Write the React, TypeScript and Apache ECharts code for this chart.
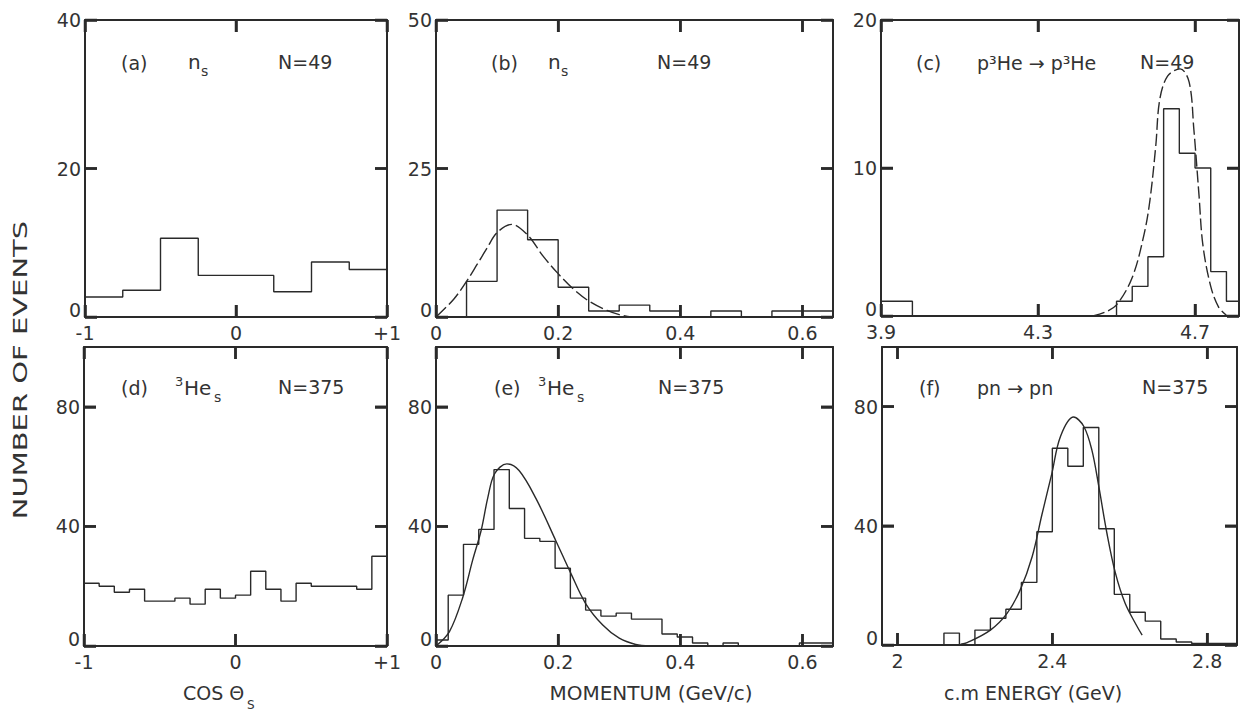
import React, { useEffect, useRef } from "react";
import * as echarts from "echarts";

// ---------- data ----------
// (a) cos theta_s, n_s
const aEdges = [-1, -0.75, -0.5, -0.25, 0, 0.25, 0.5, 0.75, 1];
const aCounts = [2.7, 3.6, 10.6, 5.6, 5.6, 3.4, 7.4, 6.4];
// (b) momentum, n_s
const bEdges = [0, 0.05, 0.1, 0.15, 0.2, 0.25, 0.3, 0.35, 0.4, 0.45, 0.5, 0.55, 0.6, 0.65];
const bCounts = [0, 6, 18, 13, 5, 1, 2, 1, 0, 1, 0, 1, 1];
const bCurveX = [0, 0.029, 0.05, 0.067, 0.083, 0.1, 0.124, 0.15, 0.175, 0.2, 0.225, 0.25, 0.28, 0.3, 0.32];
const bCurveY = [0, 3, 6, 8.8, 11.5, 14.2, 15.6, 13.8, 10.3, 7.3, 4.7, 2.7, 1.1, 0.4, 0];
// (c) c.m. energy, p3He -> p3He
const cEdges = [3.9, 3.98, 4.5, 4.54, 4.58, 4.62, 4.66, 4.7, 4.74, 4.78, 4.812];
const cCounts = [1, 0, 1, 2, 4, 14, 11, 10, 3, 1];
const cCurveX = [4.44, 4.47, 4.5, 4.54, 4.57, 4.585, 4.6, 4.61, 4.63, 4.662, 4.685, 4.697, 4.71, 4.72, 4.74, 4.76, 4.78];
const cCurveY = [0, 0.25, 0.75, 2.6, 5.5, 7.8, 11.5, 14.6, 16.2, 16.7, 15.8, 12.6, 8.2, 4.8, 2.0, 0.6, 0.05];
// (d) cos theta_s, 3He_s
const dEdges = [-1, -0.9, -0.8, -0.7, -0.6, -0.5, -0.4, -0.3, -0.2, -0.1, 0, 0.1, 0.2, 0.3, 0.4, 0.5, 0.6, 0.7, 0.8, 0.9, 1];
const dCounts = [21, 20, 18, 19, 15, 15, 16, 14, 19, 16, 17, 25, 19, 15, 21, 20, 20, 20, 19, 30];
// (e) momentum, 3He_s
const eEdges = [0, 0.02, 0.045, 0.07, 0.095, 0.12, 0.145, 0.17, 0.195, 0.22, 0.245, 0.27, 0.295, 0.32, 0.345, 0.37, 0.395, 0.42, 0.445, 0.47, 0.495, 0.595, 0.65];
const eCounts = [2, 17, 34, 39, 59, 46, 36, 35, 26, 16, 12, 10, 11, 9, 9, 4, 3, 1, 0, 1, 0, 1];
const eCurveX = [0, 0.022, 0.044, 0.06, 0.074, 0.085, 0.096, 0.116, 0.136, 0.164, 0.196, 0.221, 0.245, 0.273, 0.3, 0.327, 0.35];
const eCurveY = [0, 4.8, 16.4, 28.7, 38.7, 49.8, 57.6, 60.9, 58.7, 49.2, 35.3, 24.2, 14.2, 7, 2.6, 0.5, 0];
// (f) c.m. energy, pn -> pn
const fEdges = [1.96, 2.12, 2.16, 2.2, 2.24, 2.28, 2.32, 2.36, 2.4, 2.44, 2.48, 2.52, 2.56, 2.6, 2.64, 2.68, 2.72, 2.76, 2.877];
const fCounts = [0, 4, 0, 5, 9, 12, 21, 38, 66, 60, 73, 39, 17, 11, 8, 2, 1, 0.5];
const fCurveX = [2.163, 2.18, 2.24, 2.283, 2.317, 2.348, 2.373, 2.399, 2.421, 2.455, 2.481, 2.502, 2.52, 2.541, 2.563, 2.588, 2.619, 2.632];
const fCurveY = [0.3, 0.8, 5.0, 10.6, 18.5, 29.7, 43.7, 57.7, 70, 76.5, 73.4, 65.5, 53.2, 37.5, 24.1, 14, 6.2, 3.3];

// tick values and labels
const cosTicks = [-1, 0, 1];
const cosLabels = ["-1", "0", "+1"];
const momTicks = [0, 0.2, 0.4, 0.6];
const momLabels = ["0", "0.2", "0.4", "0.6"];
const cTicks = [3.9, 4.3, 4.7];
const cLabels = ["3.9", "4.3", "4.7"];
const fTicks = [2, 2.4, 2.8];
const fLabels = ["2", "2.4", "2.8"];
const aYTicks = [0, 20, 40];
const bYTicks = [0, 25, 50];
const cYTicks = [0, 10, 20];
const lowYTicks = [0, 40, 80];

const FONT = '"DejaVu Sans", "Liberation Sans", sans-serif';
const INK = "#2a2a2a";
const TXT = "#333333";
const TICK_PX = 12;
const TICK_W = 2.5;

type Panel = {
  grid: [number, number, number, number];
  xMin: number; xMax: number; yMin: number; yMax: number;
  xTicks: number[]; xLabels: string[]; yTicks: number[];
  edges: number[]; counts: number[];
  curveX?: number[]; curveY?: number[]; curveDash?: number[] | "solid";
};

const panels: Panel[] = [
  { grid: [85, 20, 302, 297], xMin: -1, xMax: 1, yMin: 0, yMax: 40, xTicks: cosTicks, xLabels: cosLabels, yTicks: aYTicks, edges: aEdges, counts: aCounts },
  { grid: [436, 20, 397, 297], xMin: 0, xMax: 0.65, yMin: 0, yMax: 50, xTicks: momTicks, xLabels: momLabels, yTicks: bYTicks, edges: bEdges, counts: bCounts, curveX: bCurveX, curveY: bCurveY, curveDash: [14, 4] },
  { grid: [881, 20, 358, 296], xMin: 3.9, xMax: 4.812, yMin: 0, yMax: 20, xTicks: cTicks, xLabels: cLabels, yTicks: cYTicks, edges: cEdges, counts: cCounts, curveX: cCurveX, curveY: cCurveY, curveDash: [12, 4] },
  { grid: [84, 347, 303, 299], xMin: -1, xMax: 1, yMin: 0, yMax: 100, xTicks: cosTicks, xLabels: cosLabels, yTicks: lowYTicks, edges: dEdges, counts: dCounts },
  { grid: [436, 347, 397, 299], xMin: 0, xMax: 0.65, yMin: 0, yMax: 100, xTicks: momTicks, xLabels: momLabels, yTicks: lowYTicks, edges: eEdges, counts: eCounts, curveX: eCurveX, curveY: eCurveY, curveDash: "solid" },
  { grid: [882, 347, 355, 298], xMin: 1.96, xMax: 2.877, yMin: 0, yMax: 100, xTicks: fTicks, xLabels: fLabels, yTicks: lowYTicks, edges: fEdges, counts: fCounts, curveX: fCurveX, curveY: fCurveY, curveDash: "solid" },
];

function stepData(edges: number[], counts: number[]) {
  return edges.map((e, i) => [e, counts[Math.min(i, counts.length - 1)]]);
}
function zip(xs: number[], ys: number[]) {
  return xs.map((x, i) => [x, ys[i]]);
}
function lookup(ticks: number[], labels: string[]) {
  return (v: number) => {
    const i = ticks.findIndex((t) => Math.abs(t - v) < 1e-9);
    return i >= 0 ? labels[i] : "";
  };
}

// inward tick marks as markLine segments anchored at tick values on the frame
function tickMarkLines(p: Panel) {
  const dx = (TICK_PX * (p.xMax - p.xMin)) / p.grid[2];
  const dy = (TICK_PX * (p.yMax - p.yMin)) / p.grid[3];
  const segs: any[] = [];
  const seg = (x1: number, y1: number, x2: number, y2: number) =>
    segs.push([{ coord: [x1, y1] }, { coord: [x2, y2] }]);
  p.xTicks.forEach((v) => {
    seg(v, p.yMin, v, p.yMin + dy);
    seg(v, p.yMax, v, p.yMax - dy);
  });
  p.yTicks.forEach((v) => {
    seg(p.xMin, v, p.xMin + dx, v);
    seg(p.xMax, v, p.xMax - dx, v);
  });
  return {
    silent: true,
    symbol: ["none", "none"],
    label: { show: false },
    lineStyle: { color: INK, width: TICK_W, type: "solid" },
    emphasis: { disabled: true },
    data: segs,
  };
}

function txt(x: number, y: number, text: string, size = 20, align = "left", extra: any = {}) {
  return {
    type: "text",
    x,
    y,
    silent: true,
    ...extra,
    style: {
      text,
      fontSize: size,
      fontFamily: FONT,
      fill: TXT,
      align,
      verticalAlign: "middle",
      textAlign: align,
      textVerticalAlign: "middle",
    },
  };
}

const line = () => ({ show: true, onZero: false, lineStyle: { color: INK, width: 2 } });

const textGraphics: any[] = [
  // panel annotations, top row
  txt(121, 63, "(a)", 19),
  txt(188, 62, "n", 20),
  txt(201, 71, "s", 14),
  txt(278, 62, "N=49", 19),
  txt(491, 63, "(b)", 19),
  txt(548, 62, "n", 20),
  txt(561, 71, "s", 14),
  txt(657, 62, "N=49", 19),
  txt(916, 63, "(c)", 19),
  txt(977, 63, "p³He → p³He", 19),
  txt(1140, 62, "N=49", 19),
  // bottom row
  txt(121, 388, "(d)", 19),
  txt(175, 381, "3", 13),
  txt(184, 388, "He", 20),
  txt(214, 397, "s", 14),
  txt(278, 387, "N=375", 19),
  txt(494, 388, "(e)", 19),
  txt(538, 381, "3", 13),
  txt(547, 388, "He", 20),
  txt(577, 397, "s", 14),
  txt(658, 387, "N=375", 19),
  txt(919, 388, "(f)", 19),
  txt(977, 388, "pn → pn", 19),
  txt(1142, 387, "N=375", 19),
  // axis titles
  txt(183, 693, "COS Θ", 19),
  txt(247, 705, "S", 12),
  txt(651, 693, "MOMENTUM (GeV/c)", 20, "center"),
  txt(1033, 693, "c.m ENERGY (GeV)", 19, "center"),
  txt(20, 370, "NUMBER OF EVENTS", 20, "center", { rotation: Math.PI / 2, scaleX: 1.45 }),
];

function buildOption() {
  const grid: any[] = [];
  const xAxis: any[] = [];
  const yAxis: any[] = [];
  const series: any[] = [];
  panels.forEach((p, i) => {
    grid.push({
      left: p.grid[0], top: p.grid[1], width: p.grid[2], height: p.grid[3],
    });
    xAxis.push({
      gridIndex: i, type: "value", min: p.xMin, max: p.xMax, position: "bottom",
      splitLine: { show: false }, axisLine: line(),
      axisTick: { show: false },
      axisLabel: {
        customValues: p.xTicks, formatter: lookup(p.xTicks, p.xLabels), margin: 6,
        fontSize: 19, fontFamily: FONT, color: TXT,
      },
    });
    yAxis.push({
      gridIndex: i, type: "value", min: p.yMin, max: p.yMax, position: "left",
      splitLine: { show: false }, axisLine: line(),
      axisTick: { show: false },
      axisLabel: {
        customValues: p.yTicks, margin: 4, lineHeight: 14,
        formatter: (v: number) => (v === 0 ? "0\n" : String(v)),
        fontSize: 19, fontFamily: FONT, color: TXT,
      },
    });
  });
  panels.forEach((p, i) => {
    xAxis.push({
      gridIndex: i, type: "value", min: p.xMin, max: p.xMax, position: "top",
      splitLine: { show: false }, axisLine: line(),
      axisTick: { show: false }, axisLabel: { show: false },
    });
    yAxis.push({
      gridIndex: i, type: "value", min: p.yMin, max: p.yMax, position: "right",
      splitLine: { show: false }, axisLine: line(),
      axisTick: { show: false }, axisLabel: { show: false },
    });
  });
  panels.forEach((p, i) => {
    series.push({
      type: "line", xAxisIndex: i, yAxisIndex: i, step: "end", symbol: "none", silent: true,
      data: stepData(p.edges, p.counts),
      lineStyle: { color: INK, width: 1.4 },
      markLine: tickMarkLines(p),
    });
    if (p.curveX && p.curveY) {
      series.push({
        type: "line", xAxisIndex: i, yAxisIndex: i, smooth: 0.35, symbol: "none", silent: true,
        data: zip(p.curveX, p.curveY),
        lineStyle: { color: INK, width: 1.4, type: p.curveDash },
      });
    }
  });

  return { animation: false, backgroundColor: "#ffffff", grid, xAxis, yAxis, series, graphic: textGraphics };
}

// filled tick rectangles placed through the chart's own data-to-pixel conversion
function tickRects(chart: any) {
  const out: any[] = [];
  panels.forEach((p, i) => {
    const f = { gridIndex: i };
    const rect = (x: number, y: number, w: number, h: number) =>
      out.push({ type: "rect", silent: true, z: 100, shape: { x, y, width: w, height: h }, style: { fill: INK } });
    p.xTicks.forEach((v) => {
      const b = chart.convertToPixel(f, [v, p.yMin]);
      const t = chart.convertToPixel(f, [v, p.yMax]);
      if (b && isFinite(b[0])) rect(b[0] - TICK_W / 2, b[1] - TICK_PX, TICK_W, TICK_PX);
      if (t && isFinite(t[0])) rect(t[0] - TICK_W / 2, t[1], TICK_W, TICK_PX);
    });
    p.yTicks.forEach((v) => {
      const l = chart.convertToPixel(f, [p.xMin, v]);
      const r = chart.convertToPixel(f, [p.xMax, v]);
      if (l && isFinite(l[1])) rect(l[0], l[1] - TICK_W / 2, TICK_PX, TICK_W);
      if (r && isFinite(r[1])) rect(r[0] - TICK_PX, r[1] - TICK_W / 2, TICK_PX, TICK_W);
    });
  });
  return out;
}

export default function App() {
  const ref = useRef<HTMLDivElement>(null);
  useEffect(() => {
    if (!ref.current) return;
    const chart = echarts.init(ref.current, undefined, { renderer: "svg" });
    chart.setOption(buildOption() as any);
    try {
      chart.setOption({ graphic: { elements: [...textGraphics, ...tickRects(chart)] } } as any);
    } catch (e) {
      // keep the chart even if the extra marks fail
    }
    return () => chart.dispose();
  }, []);
  return (
    <div
      ref={ref}
      style={{ position: "fixed", left: 0, top: 0, width: 1241, height: 724, background: "#fff" }}
    />
  );
}
